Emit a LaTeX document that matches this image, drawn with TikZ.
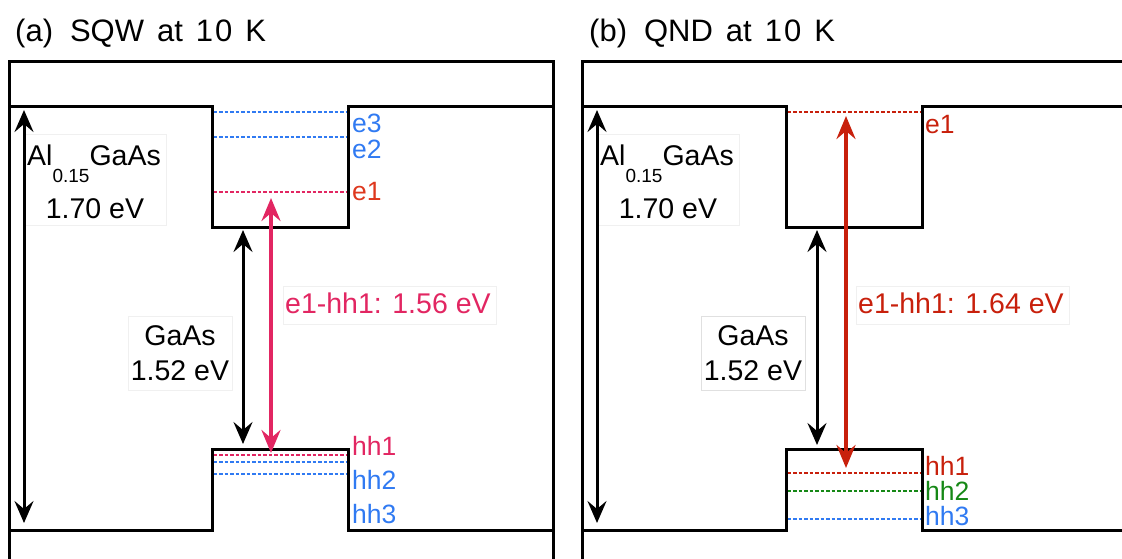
\documentclass[tikz,border=0pt]{standalone}
\usepackage{fontspec}
\setmainfont{Liberation Sans}
\usetikzlibrary{arrows.meta}
\definecolor{pinkc}{RGB}{226,38,98}
\definecolor{redc}{RGB}{200,32,12}
\definecolor{orc}{RGB}{222,56,30}
\definecolor{bluec}{RGB}{48,122,242}
\definecolor{greenc}{RGB}{22,136,22}
\definecolor{boxc}{RGB}{240,240,240}
\newcommand\subsc[1]{\raisebox{-17pt}{\fontsize{19}{19}\selectfont #1}}
\begin{document}
\begin{tikzpicture}[x=1pt,y=-1pt,
  band/.style={line width=3pt, line join=miter},
  lvl/.style={line width=2.6pt, dash pattern=on 3.5pt off 2pt},
  txt/.style={font=\fontsize{28.5}{34}\selectfont, inner sep=0pt},
  lev/.style={font=\fontsize{26.5}{30}\selectfont, inner sep=0pt, anchor=base west},
  ttl/.style={font=\fontsize{31}{34}\selectfont, inner sep=0pt, anchor=base west},
  lbox/.style={draw=boxc, fill=white, line width=0.8pt, inner sep=0pt},
  barr/.style={line width=3pt, {Stealth[length=22pt,width=19pt,inset=8pt]}-{Stealth[length=22pt,width=19pt,inset=8pt]}},
  carr/.style={line width=4pt, {Stealth[length=23pt,width=19pt,inset=8pt]}-{Stealth[length=23pt,width=19pt,inset=8pt]}}
]
\useasboundingbox (0,0) rectangle (1122,558);
\clip (0,0) rectangle (1122,558);

% ---------------- panel (a)
\node[ttl] (a-title) at (15,41) {(a)\hspace{17pt}SQW\hspace{13pt}at\hspace{13pt}1\hspace{2pt}0\hspace{13pt}K};
\draw[band] (9,575) -- (9,61) -- (553,61) -- (553,575);
\draw[band] (9,106) -- (212,106) -- (212,227) -- (348,227) -- (348,106) -- (553,106);
\draw[band] (9,530) -- (212,530) -- (212,449) -- (348,449) -- (348,530) -- (553,530);

\draw[lvl, bluec] (213.5,112) -- (346.5,112);
\draw[lvl, bluec] (213.5,137) -- (346.5,137);
\draw[lvl, pinkc] (213.5,192) -- (346.5,192);
\draw[lvl, pinkc] (213.5,455) -- (346.5,455);
\draw[lvl, bluec] (213.5,462) -- (346.5,462);
\draw[lvl, bluec] (213.5,474) -- (346.5,474);

\node[lev, text=bluec] (a-e3) at (352,132) {e3};
\node[lev, text=bluec] (a-e2) at (352,158) {e2};
\node[lev, text=orc] (a-e1) at (352,200) {e1};
\node[lev, text=pinkc] (a-hh1) at (352,455) {hh1};
\node[lev, text=bluec] (a-hh2) at (352,489) {hh2};
\node[lev, text=bluec] (a-hh3) at (352,523) {hh3};

\node[lbox, minimum width=141pt, minimum height=91pt] (a-albox) at (96,180) {};
\node[txt, anchor=base west] (a-al) at (27,165) {Al\subsc{0.15}GaAs};
\node[txt, anchor=base] (a-alev) at (95,218) {1.70 eV};

\coordinate (a-l-top) at (24,110);
\coordinate (a-l-bot) at (24,523);
\draw[barr] (a-l-top) -- (a-l-bot);

\node[lbox, minimum width=104pt, minimum height=74pt] (a-gabox) at (180,353) {};
\node[txt, anchor=base] (a-ga) at (180,345) {GaAs};
\node[txt, anchor=base] (a-gaev) at (180,380) {1.52 eV};
\coordinate (a-m-top) at (243,230);
\coordinate (a-m-bot) at (243,444);
\draw[barr] (a-m-top) -- (a-m-bot);

\node[lbox, minimum width=213pt, minimum height=38pt] (a-trbox) at (389.5,305) {};
\node[txt, anchor=base west, text=pinkc] (a-tr) at (285,313) {e1-hh1: 1.56 eV};
\coordinate (a-t-top) at (271,198);
\coordinate (a-t-bot) at (271,453);
\draw[carr, pinkc] (a-t-top) -- (a-t-bot);

% ---------------- panel (b)
\begin{scope}[xshift=573pt]
\node[ttl] (b-title) at (16,41) {(b)\hspace{17pt}QND\hspace{13pt}at\hspace{13pt}1\hspace{2pt}0\hspace{13pt}K};
\draw[band] (9,575) -- (9,61) -- (575,61);
\draw[band] (9,106) -- (213,106) -- (213,227) -- (349,227) -- (349,106) -- (575,106);
\draw[band] (9,530) -- (213,530) -- (213,449) -- (349,449) -- (349,530) -- (575,530);

\draw[lvl, redc] (214.5,112) -- (347.5,112);
\draw[lvl, redc] (214.5,473) -- (347.5,473);
\draw[lvl, greenc] (214.5,491) -- (347.5,491);
\draw[lvl, bluec] (214.5,519) -- (347.5,519);

\node[lev, text=redc] (b-e1) at (352,133) {e1};
\node[lev, text=redc] (b-hh1) at (352,475) {hh1};
\node[lev, text=greenc] (b-hh2) at (352,500) {hh2};
\node[lev, text=bluec] (b-hh3) at (352,525) {hh3};

\node[lbox, minimum width=141pt, minimum height=91pt] (b-albox) at (96,180) {};
\node[txt, anchor=base west] (b-al) at (27,165) {Al\subsc{0.15}GaAs};
\node[txt, anchor=base] (b-alev) at (95,218) {1.70 eV};

\coordinate (b-l-top) at (24,110);
\coordinate (b-l-bot) at (24,523);
\draw[barr] (b-l-top) -- (b-l-bot);

\node[lbox, draw=black!12, minimum width=104pt, minimum height=74pt] (b-gabox) at (180,353) {};
\node[txt, anchor=base] (b-ga) at (180,345) {GaAs};
\node[txt, anchor=base] (b-gaev) at (180,380) {1.52 eV};
\coordinate (b-m-top) at (244,230);
\coordinate (b-m-bot) at (244,445);
\draw[barr] (b-m-top) -- (b-m-bot);

\node[lbox, minimum width=213pt, minimum height=38pt] (b-trbox) at (389.5,305) {};
\node[txt, anchor=base west, text=redc] (b-tr) at (285,313) {e1-hh1: 1.64 eV};
\coordinate (b-t-top) at (273,116);
\coordinate (b-t-bot) at (273,468);
\draw[carr, redc] (b-t-top) -- (b-t-bot);
\end{scope}
\end{tikzpicture}
\end{document}
